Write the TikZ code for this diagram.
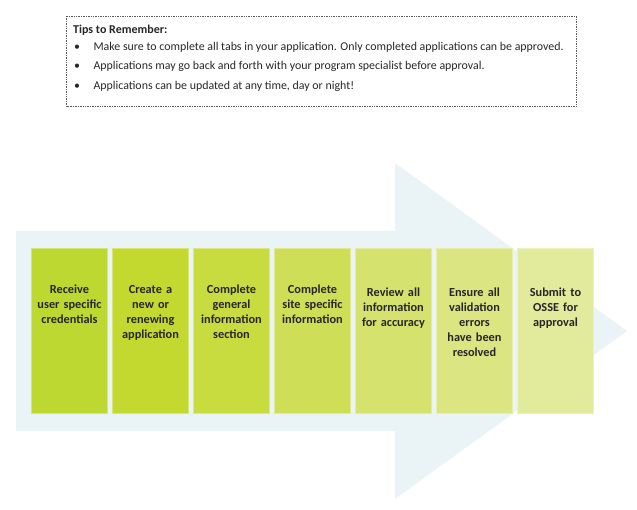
\documentclass[tikz,border=0pt]{standalone}
\usepackage{fontspec}
\setmainfont{Carlito}
\definecolor{arrowbg}{HTML}{EAF3F6}
\definecolor{cA}{HTML}{BCD831}
\definecolor{cB}{HTML}{C3D92F}
\definecolor{cC}{HTML}{C8DC40}
\definecolor{cD}{HTML}{CEDF57}
\definecolor{cE}{HTML}{D5E26E}
\definecolor{cF}{HTML}{DBE582}
\definecolor{cG}{HTML}{E2EA9C}
\definecolor{txt}{HTML}{262626}
\tikzset{
  stepbox/.style={minimum width=76pt, minimum height=165pt, inner sep=0pt, draw=white!35!#1, line width=0.6pt, fill=#1},
  steptext/.style={anchor=north, inner sep=0pt, text width=75pt, align=center, font=\fontsize{12.3}{15}\selectfont\bfseries, text=txt},
  tipline/.style={anchor=mid west, inner sep=0pt, font=\fontsize{11.9}{14}\selectfont, text=txt},
  tipbox/.style={draw=black!65, densely dotted, line width=0.7pt}
}
\begin{document}
\begin{tikzpicture}[x=1pt, y=-1pt]
\useasboundingbox (0,0) rectangle (637,510);
% tips box
\draw[tipbox] (66.5,16) rectangle (576,106.5);
\node[tipline, font=\fontsize{12}{14}\selectfont\bfseries] (tiptitle) at (73,30.7) {Tips to Remember:};
\node[tipline] (b1) at (74,48.3) {\textbullet};
\node[tipline] (b2) at (74,66.7) {\textbullet};
\node[tipline] (b3) at (74,86.7) {\textbullet};
\node[tipline] (t1) at (93.3,48.3) {Make sure to complete all tabs in your application. Only completed applications can be approved.};
\node[tipline] (t2) at (93.3,66.7) {Applications may go back and forth with your program specialist before approval.};
\node[tipline] (t3) at (93.3,86.7) {Applications can be updated at any time, day or night!};
% arrow
\fill[arrowbg] (16,231) -- (395,231) -- (395,163) -- (627,331) -- (395,499) -- (395,431) -- (16,431) -- cycle;
% step boxes
\node[stepbox=cA] (s1) at (69.5,331) {};
\node[stepbox=cB] (s2) at (150.5,331) {};
\node[stepbox=cC] (s3) at (231.5,331) {};
\node[stepbox=cD] (s4) at (312.5,331) {};
\node[stepbox=cE] (s5) at (393.5,331) {};
\node[stepbox=cF] (s6) at (474.5,331) {};
\node[stepbox=cG] (s7) at (555.5,331) {};
\node[steptext] (l1) at (69.5,285) {Receive\\user specific\\credentials};
\node[steptext] (l2) at (150.5,285) {Create a\\new or\\renewing\\application};
\node[steptext] (l3) at (231.5,285) {Complete\\general\\information\\section};
\node[steptext] (l4) at (312.5,285) {Complete\\site specific\\information};
\node[steptext] (l5) at (393.5,287.5) {Review all\\information\\for accuracy};
\node[steptext] (l6) at (474.5,287.5) {Ensure all\\validation\\errors\\have been\\resolved};
\node[steptext] (l7) at (555.5,287.5) {Submit to\\OSSE for\\approval};
\end{tikzpicture}
\end{document}
